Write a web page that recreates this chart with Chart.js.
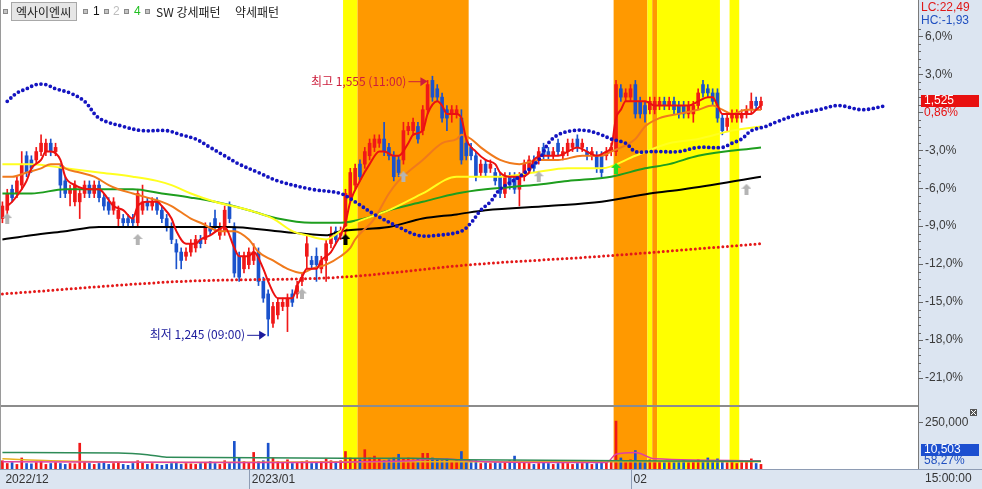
<!DOCTYPE html>
<html><head><meta charset="utf-8">
<script src="https://cdn.jsdelivr.net/npm/chart.js@4/dist/chart.umd.min.js"></script>
<style>html,body{margin:0;padding:0;background:#fff;overflow:hidden}</style>
</head><body><canvas id="c" width="982" height="489"></canvas>
<script>
// ---------------- DATA ----------------
const stockName = '엑사이엔씨';
const basePrice = 1512;          // reference price for % axis
const lcValue = 22.49, hcValue = -1.93;
const lastVolume = 10503, volumeRatio = 58.27;
const highInfo = {idx: 89, price: 1555, time: '11:00'};
const lowInfo  = {idx: 55, price: 1245, time: '09:00'};

const candleOpen = [1385,1395,1420,1415,1425,1460,1455,1455,1465,1465,1475,1465,1445,1430,1415,1405,1405,1415,1425,1415,
1425,1410,1405,1395,1385,1385,1385,1385,1380,1395,1405,1400,1405,1395,1385,1375,1355,1345,1340,1345,
1350,1360,1360,1375,1385,1365,1370,1400,1375,1340,1325,1330,1335,1345,1310,1295,1260,1270,1280,1280,
1295,1295,1310,1340,1335,1340,1325,1335,1355,1370,1365,1370,1410,1425,1450,1450,1460,1470,1475,1480,
1470,1460,1455,1455,1490,1490,1495,1490,1515,1550,1540,1530,1515,1510,1510,1505,1475,1470,1460,1440,
1450,1445,1440,1435,1415,1435,1435,1420,1435,1445,1455,1455,1470,1465,1460,1475,1460,1465,1470,1480,
1470,1465,1460,1460,1460,1460,1465,1465,1540,1530,1530,1545,1525,1520,1515,1515,1520,1525,1520,1525,
1520,1520,1510,1510,1520,1545,1540,1535,1535,1505,1495,1505,1505,1505,1510,1515,1525,1520];
const candleHigh = [1405,1420,1425,1435,1465,1465,1460,1470,1485,1480,1480,1475,1450,1435,1425,1430,1420,1430,1430,1430,
1430,1415,1410,1410,1400,1390,1390,1390,1420,1425,1410,1410,1410,1400,1390,1380,1360,1350,1350,1360,
1365,1365,1380,1380,1395,1380,1400,1405,1380,1345,1345,1350,1355,1350,1315,1300,1285,1290,1290,1295,
1300,1310,1320,1365,1340,1350,1340,1360,1375,1375,1375,1420,1445,1450,1455,1470,1480,1485,1485,1500,
1475,1465,1460,1500,1500,1505,1500,1520,1550,1555,1545,1535,1520,1520,1520,1515,1480,1475,1465,1455,
1455,1455,1445,1440,1440,1440,1440,1440,1455,1460,1460,1470,1475,1470,1470,1480,1470,1480,1480,1485,
1480,1470,1470,1465,1465,1470,1475,1550,1545,1540,1545,1550,1530,1525,1530,1530,1530,1530,1530,1530,
1525,1525,1525,1525,1540,1550,1545,1540,1540,1510,1510,1515,1515,1515,1520,1535,1530,1530];
const candleLow = [1380,1390,1405,1410,1420,1435,1440,1450,1460,1460,1460,1460,1410,1410,1400,1400,1385,1410,1410,1410,
1405,1395,1390,1390,1375,1375,1375,1375,1375,1390,1395,1395,1390,1380,1370,1355,1325,1325,1335,1340,
1345,1350,1355,1365,1370,1360,1365,1380,1315,1310,1320,1325,1330,1305,1285,1245,1255,1265,1275,1250,
1280,1290,1305,1325,1325,1310,1320,1310,1350,1355,1360,1365,1405,1420,1430,1445,1455,1465,1470,1460,
1455,1430,1435,1450,1485,1485,1475,1485,1510,1525,1525,1500,1490,1500,1505,1450,1455,1455,1430,1435,
1435,1440,1425,1410,1410,1420,1415,1400,1430,1440,1440,1450,1455,1455,1455,1460,1455,1460,1465,1465,
1465,1455,1455,1440,1435,1455,1460,1460,1525,1525,1525,1505,1505,1500,1510,1510,1515,1515,1515,1510,
1505,1505,1505,1500,1515,1530,1530,1520,1500,1485,1490,1500,1500,1500,1505,1510,1515,1515];
const candleClose = [1400,1415,1410,1430,1450,1440,1445,1465,1475,1475,1465,1470,1425,1415,1420,1425,1415,1425,1415,1425,
1410,1400,1395,1405,1395,1380,1380,1380,1415,1405,1400,1405,1395,1385,1375,1360,1345,1335,1345,1355,
1360,1355,1375,1370,1375,1375,1395,1385,1320,1315,1340,1345,1345,1310,1290,1265,1280,1285,1285,1290,
1285,1305,1315,1355,1330,1330,1335,1355,1365,1360,1370,1415,1440,1445,1435,1465,1475,1480,1480,1465,
1460,1435,1440,1490,1495,1500,1480,1515,1545,1530,1530,1505,1505,1515,1515,1455,1460,1460,1435,1450,
1440,1450,1430,1415,1435,1425,1420,1435,1450,1455,1445,1465,1460,1460,1465,1465,1465,1475,1475,1470,
1475,1460,1465,1445,1440,1465,1470,1545,1530,1535,1540,1510,1510,1510,1525,1525,1525,1520,1525,1515,
1510,1510,1520,1520,1535,1535,1535,1525,1505,1490,1505,1510,1510,1510,1515,1525,1520,1525];
const volume = [45000,30000,35000,25000,60000,30000,28000,35000,40000,25000,30000,35000,30000,25000,30000,28000,140000,35000,30000,25000,
30000,40000,25000,30000,35000,25000,20000,30000,45000,35000,25000,30000,25000,20000,25000,30000,35000,25000,30000,28000,
25000,30000,35000,40000,30000,25000,45000,30000,150000,60000,40000,35000,90000,40000,45000,140000,60000,40000,35000,50000,
30000,35000,40000,45000,30000,35000,40000,55000,45000,40000,45000,95000,60000,55000,50000,105000,60000,70000,55000,45000,
50000,60000,80000,55000,60000,50000,55000,85000,85000,60000,50000,45000,55000,40000,45000,95000,40000,35000,45000,30000,
35000,30000,40000,30000,35000,45000,70000,40000,35000,30000,25000,30000,35000,30000,25000,30000,35000,30000,25000,30000,
30000,35000,25000,30000,40000,35000,45000,260000,60000,45000,50000,100000,40000,35000,50000,45000,40000,35000,40000,35000,
40000,45000,35000,40000,50000,45000,60000,40000,55000,45000,35000,40000,30000,35000,40000,55000,30000,25000];

// moving averages & overlays: [candle index, price]
const ma5 = [[1,1400],[2,1405],[4,1420],[5,1430],[6,1445],[8,1455],[9,1465],[10,1465],[12,1455],[13,1435],[15,1425],[18,1420],[20,1420],[21,1415],[23,1400],[25,1395],[27,1385],[28,1400],[30,1405],[32,1405],[33,1400],[35,1385],[36,1370],[38,1355],[40,1355],[41,1360],[43,1365],[46,1375],[48,1350],[49,1340],[51,1340],[52,1345],[54,1325],[55,1310],[57,1290],[58,1290],[60,1290],[61,1305],[62,1315],[63,1325],[65,1325],[66,1335],[68,1345],[69,1355],[70,1365],[71,1380],[72,1405],[74,1430],[76,1450],[78,1465],[79,1465],[81,1460],[82,1460],[84,1475],[85,1485],[87,1490],[88,1510],[90,1525],[91,1520],[92,1510],[94,1510],[95,1505],[96,1480],[98,1465],[100,1455],[102,1450],[103,1440],[105,1435],[107,1435],[109,1440],[110,1455],[112,1460],[115,1460],[117,1465],[119,1470],[121,1465],[123,1460],[125,1465],[126,1470],[127,1505],[128,1515],[129,1525],[131,1525],[133,1525],[135,1520],[138,1520],[140,1520],[142,1520],[144,1525],[146,1530],[147,1530],[148,1520],[149,1510],[151,1510],[153,1510],[155,1510],[156,1515],[157,1520]];
const ma20 = [[0,1435],[2,1435],[5,1440],[8,1445],[10,1450],[12,1450],[13,1445],[16,1440],[19,1435],[22,1425],[24,1420],[27,1415],[30,1410],[33,1405],[35,1400],[39,1385],[41,1380],[45,1370],[48,1370],[51,1360],[53,1345],[56,1335],[59,1325],[62,1320],[64,1325],[67,1330],[70,1340],[72,1350],[73,1360],[77,1385],[80,1415],[82,1430],[87,1455],[91,1475],[94,1480],[95,1485],[97,1480],[99,1470],[103,1455],[107,1450],[111,1455],[115,1455],[120,1460],[124,1460],[126,1465],[131,1480],[133,1495],[136,1505],[140,1510],[144,1515],[147,1520],[149,1515],[151,1510],[154,1515],[157,1515]];
const ma60 = [[0,1450],[6,1450],[13,1445],[20,1440],[27,1435],[32,1430],[35,1425],[39,1415],[44,1405],[51,1395],[56,1385],[60,1370],[63,1365],[67,1360],[70,1370],[73,1380],[80,1395],[87,1415],[94,1435],[103,1435],[110,1440],[117,1445],[124,1445],[131,1460],[138,1475],[144,1480],[151,1490],[157,1495]];
const ma120 = [[0,1415],[6,1415],[13,1420],[20,1420],[27,1420],[33,1415],[39,1410],[44,1405],[51,1395],[57,1385],[64,1380],[70,1380],[75,1385],[80,1395],[87,1405],[94,1415],[100,1420],[110,1425],[117,1430],[126,1435],[133,1445],[138,1450],[144,1460],[157,1470]];
const ma240 = [[0,1360],[6,1365],[13,1370],[20,1375],[27,1375],[39,1375],[47,1375],[57,1370],[67,1365],[70,1370],[80,1375],[87,1385],[94,1390],[100,1395],[113,1400],[124,1405],[134,1415],[141,1420],[157,1435]];
const redDots = [[0,1295],[37,1310],[70,1315],[97,1330],[124,1340],[157,1355]];
const blueDots = [[1,1525],[3,1535],[5,1540],[7,1545],[9,1545],[11,1540],[14,1535],[17,1525],[20,1505],[25,1495],[29,1490],[34,1490],[37,1485],[40,1480],[43,1470],[46,1460],[49,1450],[53,1440],[57,1430],[64,1420],[70,1415],[73,1405],[77,1390],[82,1375],[86,1365],[90,1365],[95,1370],[97,1380],[99,1395],[101,1405],[103,1420],[107,1435],[111,1455],[113,1475],[115,1485],[118,1490],[121,1490],[124,1485],[126,1480],[129,1475],[131,1465],[134,1465],[136,1465],[140,1465],[144,1470],[149,1470],[151,1475],[153,1480],[155,1490],[158,1495],[160,1500],[165,1510],[169,1515],[173,1520],[178,1515],[183,1520]];
const volMaA = [[0,89000],[24,87000],[30,78000],[34,64000],[85,58000],[95,50000],[157,42000]];
const volMaB = [[0,40000],[50,35000],[85,45000],[90,55000],[100,40000],[125,35000],[127,80000],[131,90000],[135,55000],[157,45000]];
const volMaC = [[0,55000],[10,45000],[40,35000],[85,40000],[157,40000]];
// signal arrows: [index, price, kind]
const signals = [[1,1385,'gray'],[28,1360,'gray'],[62,1295,'gray'],[83,1435,'gray'],[111,1435,'gray'],[154,1420,'gray'],[71,1360,'black'],[127,1445,'green']];
// pattern bands: [fromIndex, toIndex, kind]
const bands = [[71,73,'y'],[74,96,'o'],[127,133,'o'],[134,134,'y'],[135,135,'o'],[136,148,'y'],[151,152,'y']];
const xTickIdx = [0, 51, 130];
const xTickLabels = ['2022/12', '2023/01', '02'];
const pctTicks = [-21,-18,-15,-12,-9,-6,-3,0,3,6];

// ---------------- STYLE ----------------
const UP = '#f01818', DOWN = '#1a52cc';
const AXIS_BG = '#dce5f1';
const NUMF = '12px "Liberation Sans", Arial, sans-serif';
const KRF = '12px "Noto Sans CJK KR", sans-serif';

const idx = candleClose.map((_, i) => i);
const candleColors = idx.map(i => candleClose[i] >= candleOpen[i] ? UP : DOWN);
const pts = arr => arr.map(p => ({x: p[0], y: p[1]}));
const fmtPct = v => (v < 0 ? '-' : '') + Math.abs(v).toFixed(2).replace('.', ',');

function makeArrow(color) {
  const c = document.createElement('canvas'); c.width = 10; c.height = 11;
  const g = c.getContext('2d'); g.fillStyle = color; g.beginPath();
  g.moveTo(5,0); g.lineTo(10,5); g.lineTo(7,5); g.lineTo(7,11); g.lineTo(3,11); g.lineTo(3,5); g.lineTo(0,5); g.closePath(); g.fill();
  return c;
}
const arrowImgs = {gray: makeArrow('#b4b4b4'), black: makeArrow('#000000'), green: makeArrow('#22dd22')};

function lineDS(pairs, color, width, order, extra) {
  return Object.assign({type: 'line', data: pts(pairs), borderColor: color, borderWidth: width,
    pointRadius: 0, fill: false, cubicInterpolationMode: 'monotone', yAxisID: 'y', order: order}, extra || {});
}
const noPad = s => { s.paddingLeft = 0; s.paddingRight = 0; s.paddingTop = 0; s.paddingBottom = 0; };

const panelPlugin = {
  id: 'panels',
  beforeDraw(chart) {
    const {ctx, chartArea: ca} = chart;
    ctx.save();
    ctx.fillStyle = '#fff'; ctx.fillRect(0, 0, chart.width, chart.height);
    ctx.fillStyle = AXIS_BG;
    ctx.fillRect(ca.right, 0, chart.width - ca.right, chart.height);
    ctx.fillRect(0, ca.bottom, ca.right, chart.height - ca.bottom);
    ctx.restore();
  },
  beforeDatasetsDraw(chart) {
    const {ctx, chartArea: ca, scales} = chart;
    ctx.save();
    bands.forEach(b => {
      const x0 = scales.x.getPixelForValue(b[0] - 0.5), x1 = scales.x.getPixelForValue(b[1] + 0.5);
      ctx.fillStyle = b[2] === 'y' ? '#ffff00' : '#ff9900';
      ctx.fillRect(x0, ca.top, x1 - x0, ca.bottom - ca.top);
    });
    ctx.restore();
  },
  afterDatasetsDraw(chart) {
    const {ctx, chartArea: ca, scales} = chart;
    const xs = scales.x, ys = scales.y, yv = scales.yv;
    ctx.save();
    // panel separator
    ctx.fillStyle = '#8c8c8c';
    ctx.fillRect(ca.left, yv.top - 1, ca.right - ca.left, 2);
    // outer border
    ctx.strokeStyle = '#9a9a9a'; ctx.lineWidth = 1;
    ctx.beginPath(); ctx.moveTo(0.5, 0); ctx.lineTo(0.5, ca.bottom); ctx.stroke();
    // x-axis separators
    ctx.strokeStyle = '#8e9cb4';
    xs.ticks.forEach(t => {
      const x = Math.round(xs.getPixelForValue(t.value)) + 0.5;
      if (x < 3) return;
      ctx.beginPath(); ctx.moveTo(x, ca.bottom); ctx.lineTo(x, chart.height); ctx.stroke();
    });
    ctx.beginPath(); ctx.moveTo(0, ca.bottom + 0.5); ctx.lineTo(chart.width, ca.bottom + 0.5); ctx.stroke();
    // minor ticks on price axis
    ctx.strokeStyle = '#666';
    for (let p = -21; p <= 7.2; p += 0.6) {
      const y = Math.round(ys.getPixelForValue(basePrice * (1 + p / 100))) + 0.5;
      if (y < 2 || y > ys.bottom - 2) continue;
      ctx.beginPath(); ctx.moveTo(ca.right, y); ctx.lineTo(ca.right + 3, y); ctx.stroke();
    }
    // high / low annotations
    ctx.font = KRF; ctx.textBaseline = 'middle';
    const hx = xs.getPixelForValue(highInfo.idx) - 5, hy = ys.getPixelForValue(highInfo.price) + 5;
    ctx.fillStyle = '#cc1e3c'; ctx.strokeStyle = '#cc1e3c'; ctx.textAlign = 'right';
    ctx.fillText('최고 ' + highInfo.price.toLocaleString('en-US') + ' (' + highInfo.time + ')', hx - 21, hy);
    ctx.beginPath(); ctx.moveTo(hx - 19, hy + 0.5); ctx.lineTo(hx - 6, hy + 0.5); ctx.stroke();
    ctx.beginPath(); ctx.moveTo(hx, hy); ctx.lineTo(hx - 7, hy - 4); ctx.lineTo(hx - 7, hy + 5); ctx.closePath(); ctx.fill();
    const lx = xs.getPixelForValue(lowInfo.idx) - 2, ly = ys.getPixelForValue(lowInfo.price) - 1;
    ctx.fillStyle = '#1c1c9c'; ctx.strokeStyle = '#1c1c9c';
    ctx.fillText('최저 ' + lowInfo.price.toLocaleString('en-US') + ' (' + lowInfo.time + ')', lx - 21, ly);
    ctx.beginPath(); ctx.moveTo(lx - 19, ly + 0.5); ctx.lineTo(lx - 6, ly + 0.5); ctx.stroke();
    ctx.beginPath(); ctx.moveTo(lx, ly); ctx.lineTo(lx - 7, ly - 4); ctx.lineTo(lx - 7, ly + 5); ctx.closePath(); ctx.fill();
    ctx.restore();
  },
  afterDraw(chart) {
    const {ctx, chartArea: ca, scales} = chart;
    const ys = scales.y, yv = scales.yv;
    ctx.save();
    ctx.textBaseline = 'middle'; ctx.textAlign = 'left';
    // legend
    const sq = x => { ctx.fillStyle = '#c4c4c4'; ctx.fillRect(x, 9, 5, 5); ctx.strokeStyle = '#8a8a8a'; ctx.strokeRect(x + 0.5, 9.5, 4, 4); };
    sq(3);
    ctx.fillStyle = '#e6e6e6'; ctx.fillRect(11, 2, 66, 19);
    ctx.strokeStyle = '#a8a8a8'; ctx.strokeRect(11.5, 2.5, 65, 18);
    ctx.font = KRF; ctx.fillStyle = '#222'; ctx.fillText(stockName, 16, 12);
    sq(83); ctx.font = NUMF; ctx.fillStyle = '#111'; ctx.fillText('1', 93, 12);
    sq(104); ctx.fillStyle = '#bdbdbd'; ctx.fillText('2', 113, 12);
    sq(124); ctx.fillStyle = '#22c022'; ctx.fillText('4', 134, 12);
    sq(145); ctx.font = KRF; ctx.fillStyle = '#222'; ctx.fillText('SW 강세패턴', 156, 12); ctx.fillText('약세패턴', 235, 12);
    // LC / HC
    const rx = ca.right + 3;
    ctx.font = NUMF;
    ctx.fillStyle = '#e01818'; ctx.fillText('LC:' + fmtPct(lcValue), rx, 8);
    ctx.fillStyle = '#2050c0'; ctx.fillText('HC:' + fmtPct(hcValue), rx, 21);
    // price tag
    const lastClose = candleClose[candleClose.length - 1];
    const py = Math.round(ys.getPixelForValue(lastClose));
    ctx.fillStyle = '#e81010'; ctx.fillRect(ca.right + 3, py - 6, 58, 12);
    ctx.fillStyle = '#fff'; ctx.fillText(lastClose.toLocaleString('en-US'), ca.right + 6, py);
    ctx.fillStyle = '#e81010'; ctx.fillText(fmtPct((lastClose / basePrice - 1) * 100) + '%', ca.right + 6, py + 12);
    // volume tag
    const vy = yv.bottom - 19;
    ctx.fillStyle = '#1c4fd0'; ctx.fillRect(ca.right + 3, vy - 6, 58, 12);
    ctx.fillStyle = '#fff'; ctx.fillText(lastVolume.toLocaleString('en-US'), ca.right + 6, vy);
    ctx.fillStyle = '#2050c0'; ctx.fillText(fmtPct(volumeRatio) + '%', ca.right + 6, vy + 11);
    // close icon
    ctx.fillStyle = '#555'; ctx.fillRect(chart.width - 12, yv.top + 3, 7, 7);
    ctx.strokeStyle = '#fff'; ctx.beginPath(); ctx.moveTo(chart.width - 11, yv.top + 4); ctx.lineTo(chart.width - 6, yv.top + 9);
    ctx.moveTo(chart.width - 6, yv.top + 4); ctx.lineTo(chart.width - 11, yv.top + 9); ctx.stroke();
    // time label
    ctx.fillStyle = '#333'; ctx.fillText('15:00:00', ca.right + 7, ca.bottom + 10);
    ctx.restore();
  }
};

const datasets = [
  {type: 'line', data: signals.map(s => ({x: s[0], y: s[1]})), pointStyle: signals.map(s => arrowImgs[s[2]]),
   showLine: false, yAxisID: 'y', order: 0},
  lineDS(blueDots, '#1414c0', 3.8, 1, {borderDash: [0, 4.83], borderCapStyle: 'round', cubicInterpolationMode: 'default', tension: 0.35}),
  lineDS(ma5, '#ec1010', 2, 2),
  lineDS(ma20, '#f07a1c', 2, 3),
  lineDS(ma60, '#ffff20', 2, 4),
  lineDS(ma120, '#1e9e1e', 2, 4),
  lineDS(ma240, '#000000', 2, 4),
  lineDS(redDots, '#e41818', 3, 4, {borderDash: [0, 4.6], borderCapStyle: 'round'}),
  {type: 'bar', data: idx.map(i => ({x: i, y: [candleOpen[i], candleClose[i]]})), backgroundColor: candleColors,
   barThickness: 3, grouped: false, yAxisID: 'y', order: 6},
  {type: 'bar', data: idx.map(i => ({x: i, y: [candleLow[i], candleHigh[i]]})), backgroundColor: candleColors,
   barThickness: 1, grouped: false, yAxisID: 'y', order: 7},
  lineDS(volMaA, '#2e8b57', 1.5, 8, {yAxisID: 'yv'}),
  lineDS(volMaB, '#e040a0', 1.5, 8, {yAxisID: 'yv'}),
  lineDS(volMaC, '#e8b020', 1.5, 8, {yAxisID: 'yv'}),
  {type: 'bar', data: idx.map(i => ({x: i, y: volume[i]})), backgroundColor: candleColors,
   barThickness: 2, grouped: false, yAxisID: 'yv', order: 9}
];

new Chart(document.getElementById('c'), {
  type: 'bar',
  data: {datasets},
  plugins: [panelPlugin],
  options: {
    responsive: false, animation: false, devicePixelRatio: 1,
    layout: {padding: 0, autoPadding: false},
    plugins: {legend: {display: false}, tooltip: {enabled: false}},
    scales: {
      x: {type: 'linear', min: -0.5, max: 189.5, position: 'bottom', offset: false,
          afterBuildTicks: s => { s.ticks = xTickIdx.map(v => ({value: v})); },
          afterFit: s => { s.height = 20; noPad(s); },
          grid: {display: false, drawTicks: false, offset: false}, border: {display: false},
          ticks: {autoSkip: false, maxRotation: 0, align: 'start', labelOffset: 3, padding: 3,
                  font: {family: '"Liberation Sans", Arial', size: 12}, color: '#333',
                  callback: v => xTickLabels[xTickIdx.indexOf(v)]}},
      y: {type: 'linear', position: 'right', stack: 'p', stackWeight: 406, min: 1161.2, max: 1646,
          afterBuildTicks: s => { s.ticks = pctTicks.map(p => ({value: basePrice * (1 + p / 100)})); },
          afterFit: s => { s.width = 64; noPad(s); },
          grid: {drawOnChartArea: false, drawTicks: true, tickLength: 5, color: '#666'},
          border: {display: true, color: '#7a7a7a'},
          ticks: {padding: 2, font: {family: '"Liberation Sans", Arial', size: 12}, color: '#3a3a3a',
                  callback: v => { const p = Math.round((v / basePrice - 1) * 100); return p === 0 ? '' : p.toFixed(1).replace('.', ',') + '%'; }}},
      yv: {type: 'linear', position: 'right', stack: 'p', stackWeight: 63, min: 0, max: 342000,
          afterBuildTicks: s => { s.ticks = [{value: 250000}]; },
          afterFit: s => { s.width = 64; noPad(s); },
          grid: {drawOnChartArea: false, drawTicks: true, tickLength: 5, color: '#666'},
          border: {display: true, color: '#7a7a7a'},
          ticks: {padding: 2, font: {family: '"Liberation Sans", Arial', size: 12}, color: '#3a3a3a',
                  callback: v => v.toLocaleString('en-US')}}
    }
  }
});
</script></body></html>
